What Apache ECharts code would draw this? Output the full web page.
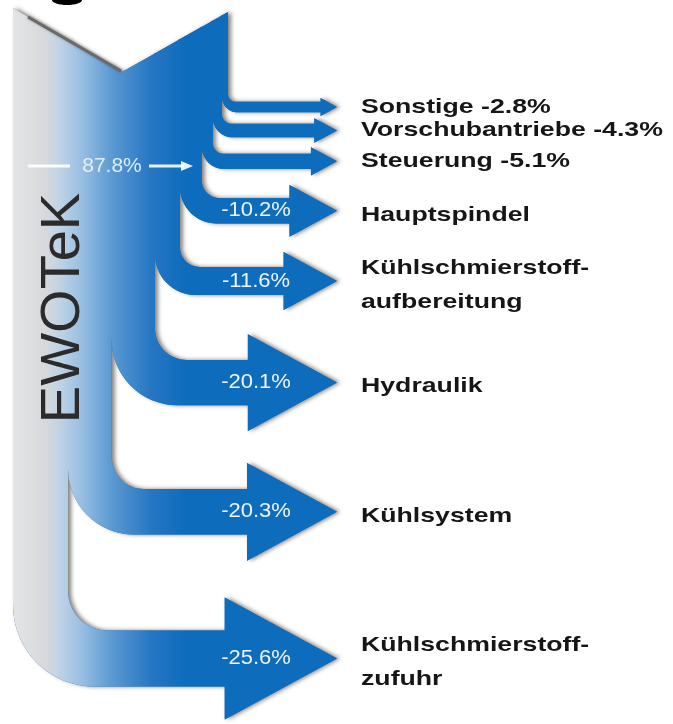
<!DOCTYPE html>
<html>
<head>
<meta charset="utf-8">
<script src="https://cdn.jsdelivr.net/npm/echarts@6/dist/echarts.min.js"></script>
<style>
  html, body { margin: 0; padding: 0; background: #fff; }
  #main { width: 673px; height: 724px; }
</style>
</head>
<body>
<div id="main"></div>
<script>
// Verbraucher, von oben nach unten
var names = ['Sonstige', 'Vorschubantriebe', 'Steuerung', 'Hauptspindel',
  'Kühlschmierstoff-\naufbereitung', 'Hydraulik', 'Kühlsystem', 'Kühlschmierstoff-\nzufuhr'];
var shares = [2.8, 4.3, 5.1, 10.2, 11.6, 20.1, 20.3, 25.6];
var passThrough = [87.8];
var title = ['EWOTeK'];

// layout
var W = 673, H = 724;
var bandLeft = 13, firstRow = 107;
var pxPerShareX = 2.15, pxPerShareY = 6.35;
var rowGap = 0.15;
var tipX = 337, labelX = 361, shaftLabelX = 256;
var apex = [122, 72], topLeftY = 8, topRightY = 12;
var fontFamily = '"Liberation Sans", Arial, Helvetica, sans-serif';

// stripe start (share units from the left band edge), row centre (share units from first row)
var stripeStart = [], rowPos = [];
for (var i = 0; i < shares.length; i++) {
  var s = 0;
  for (var j = i + 1; j < shares.length; j++) s += shares[j];
  stripeStart.push(s);
  rowPos.push(i === 0 ? 0 : rowPos[i - 1] + (shares[i - 1] + shares[i]) / 2 + rowGap);
}

var bandRight = bandLeft + 100 * pxPerShareX;
function topY(x) {
  if (x <= apex[0]) return topLeftY + (x - bandLeft) * (apex[1] - topLeftY) / (apex[0] - bandLeft);
  return apex[1] - (x - apex[0]) * (apex[1] - topRightY) / (bandRight - apex[0]);
}

function arc(cx, cy, r, a0, a1, pts) {
  var n = 16;
  for (var k = 0; k <= n; k++) {
    var a = a0 + (a1 - a0) * k / n;
    pts.push([cx + r * Math.cos(a), cy + r * Math.sin(a)]);
  }
}

var blueFill = {
  type: 'linear', x: bandLeft, y: 0, x2: 185, y2: 0, global: true,
  colorStops: [
    { offset: 0, color: '#e4e4e4' },
    { offset: 0.19, color: '#d6d9dc' },
    { offset: 0.28, color: '#bdd2e6' },
    { offset: 0.4, color: '#98bee2' },
    { offset: 0.57, color: '#5c9ad2' },
    { offset: 0.8, color: '#2677c3' },
    { offset: 1, color: '#0e6cbd' }
  ]
};

function flowShape(api) {
  var idx = api.value(3), v = api.value(2);
  var p = api.coord([api.value(0), api.value(1)]);
  var sz = api.size([v, v]);
  var xl = p[0], xr = p[0] + sz[0], c = p[1];
  var shaft = 0.315 * sz[1] + 5;
  var head = 0.72 * sz[1] + 5;
  var headLen = 0.92 * head;
  var yt = c - shaft / 2, yb = c + shaft / 2;
  var xh = tipX - headLen;
  var rIn = 0.7 * shaft, rOut = rIn + 0.75 * shaft;
  var ov = idx === shares.length - 1 ? 0 : 1.5; // overlap onto left neighbour, hides seams

  var pts = [[xl - ov, topY(xl - ov)]];
  if (xl < apex[0] && xr > apex[0]) pts.push(apex.slice());
  pts.push([xr, topY(xr)]);
  arc(xr + rIn, yt - rIn, rIn, Math.PI, Math.PI / 2, pts);
  pts.push([xh, yt], [xh, c - head / 2], [tipX, c], [xh, c + head / 2], [xh, yb]);
  arc(xl + rOut, yb - rOut, rOut, Math.PI / 2, Math.PI, pts);
  pts.push([xl - ov, yb - rOut]);
  return { idx: idx, v: v, c: c, pts: pts };
}

function renderShadow(params, api) {
  var f = flowShape(api);
  return {
    type: 'polygon',
    shape: { points: f.pts },
    style: {
      fill: '#0e6cbd',
      shadowBlur: 4, shadowOffsetX: 3, shadowOffsetY: 0,
      shadowColor: 'rgba(55,45,35,0.6)'
    }
  };
}

function renderFlow(params, api) {
  var f = flowShape(api);
  var children = [{
    type: 'polygon',
    shape: { points: f.pts },
    style: { fill: blueFill }
  }];
  var txt = names[f.idx];
  if (f.v < 10) {
    txt += ' -' + f.v.toFixed(1) + '%';
  } else {
    children.push({
      type: 'text', x: shaftLabelX, y: f.c, scaleX: 1.1, z2: 5,
      style: {
        text: '-' + f.v.toFixed(1) + '%', fill: '#eef4fb', fontSize: 20,
        fontFamily: fontFamily, align: 'center', verticalAlign: 'middle'
      }
    });
  }
  children.push({
    type: 'text', x: labelX, y: f.c + (f.v < 10 ? 0 : 4), scaleX: 1.27, z2: 5,
    style: {
      text: txt, fill: '#161616', fontSize: 21, fontWeight: 'bold', lineHeight: 34,
      fontFamily: fontFamily, align: 'left', verticalAlign: 'middle'
    }
  });
  return { type: 'group', children: children };
}

var flowData = shares.map(function (v, i) {
  return [stripeStart[i], rowPos[i], v, i];
}).reverse();

var chart = echarts.init(document.getElementById('main'));
chart.setOption({
  animation: false,
  backgroundColor: '#ffffff',
  grid: { left: 0, right: 0, top: 0, bottom: 0 },
  xAxis: { type: 'value', show: false, min: -bandLeft / pxPerShareX, max: (W - bandLeft) / pxPerShareX },
  yAxis: { type: 'value', show: false, inverse: true, min: -firstRow / pxPerShareY, max: (H - firstRow) / pxPerShareY },
  series: [{
    type: 'custom',
    silent: true,
    z: 1,
    renderItem: renderShadow,
    data: flowData
  }, {
    type: 'custom',
    silent: true,
    z: 2,
    renderItem: renderFlow,
    data: flowData
  }],
  graphic: [
    { type: 'ellipse', z: 100, shape: { cx: 67, cy: 0, rx: 15, ry: 5 }, style: { fill: '#000' } },
    {
      type: 'line', z: 100, shape: { x1: 28, y1: 17, x2: 121, y2: 71 },
      style: { stroke: '#6a6a6a', lineWidth: 3, shadowBlur: 3, shadowColor: 'rgba(0,0,0,0.3)' }
    },
    {
      type: 'text', z: 100, x: 64, y: 308, rotation: Math.PI / 2,
      style: {
        text: title[0], fontSize: 56, fill: '#2b2b2b', fontFamily: fontFamily,
        align: 'center', verticalAlign: 'middle'
      }
    },
    {
      type: 'line', z: 100, shape: { x1: 28, y1: 166, x2: 70, y2: 166 },
      style: { stroke: 'rgba(255,255,255,0.9)', lineWidth: 3 }
    },
    {
      type: 'text', z: 100, x: 112, y: 166,
      style: {
        text: passThrough[0].toFixed(1) + '%', fontSize: 21, fill: 'rgba(235,243,252,0.92)',
        fontFamily: fontFamily, align: 'center', verticalAlign: 'middle'
      }
    },
    {
      type: 'line', z: 100, shape: { x1: 149, y1: 166, x2: 184, y2: 166 },
      style: { stroke: 'rgba(255,255,255,0.9)', lineWidth: 3 }
    },
    {
      type: 'polygon', z: 100, shape: { points: [[181, 161], [193, 166], [181, 171]] },
      style: { fill: 'rgba(255,255,255,0.9)' }
    }
  ]
});
</script>
</body>
</html>
